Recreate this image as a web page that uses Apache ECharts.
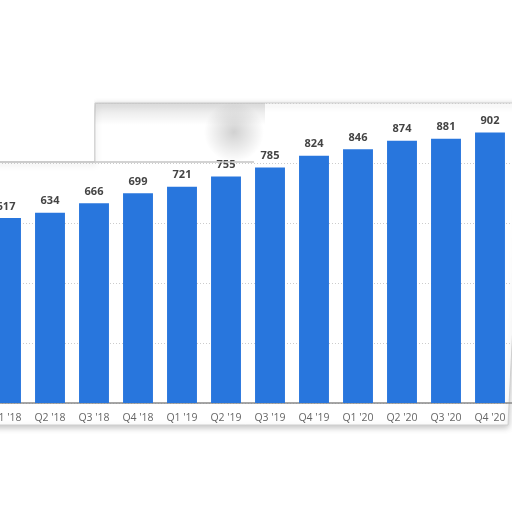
<!DOCTYPE html>
<html>
<head>
<meta charset="utf-8">
<script src="https://cdn.jsdelivr.net/npm/echarts@6/dist/echarts.min.js"></script>
<style>
  html, body { margin: 0; padding: 0; background: #fff; overflow: hidden; }
  #wrap { position: absolute; left: 0; top: 0; width: 512px; height: 512px; overflow: hidden; }
  #main { position: absolute; left: -16px; top: 0; width: 528px; height: 512px; }
</style>
</head>
<body>
<div id="wrap"><div id="main"></div></div>
<script>
// quarterly values
var quarters = ["Q1 '18", "Q2 '18", "Q3 '18", "Q4 '18", "Q1 '19", "Q2 '19",
                "Q3 '19", "Q4 '19", "Q1 '20", "Q2 '20", "Q3 '20", "Q4 '20"];
var values = [617, 634, 666, 699, 721, 755, 785, 824, 846, 874, 881, 902];

var chart = echarts.init(document.getElementById('main'));

// decoration only: the curled paper edge above the plot (x is +16 for the container shift)
var paper = [
  {
    type: 'polygon', z: -10,
    shape: { points: [[-20, 162], [111, 162], [111, 103], [540, 103], [524, 425], [-20, 425]] },
    style: { fill: '#fff', stroke: '#cfcfcf', lineWidth: 1, shadowBlur: 6, shadowColor: 'rgba(0,0,0,0.25)', shadowOffsetY: 2 }
  },
  {
    type: 'rect', z: -9,
    shape: { x: 111, y: 103, width: 170, height: 22 },
    style: {
      fill: new echarts.graphic.LinearGradient(0, 0, 0, 1, [
        { offset: 0, color: 'rgba(0,0,0,0.12)' },
        { offset: 1, color: 'rgba(0,0,0,0)' }
      ])
    }
  },
  {
    type: 'ellipse', z: -9,
    shape: { cx: 250, cy: 132, rx: 30, ry: 32 },
    style: {
      fill: new echarts.graphic.RadialGradient(0.5, 0.5, 0.5, [
        { offset: 0, color: 'rgba(0,0,0,0.18)' },
        { offset: 1, color: 'rgba(0,0,0,0)' }
      ])
    }
  },
  {
    type: 'rect', z: 50,
    shape: { x: -20, y: 80, width: 130, height: 81 },
    style: { fill: '#fff' }
  },
  {
    type: 'line', z: 51,
    shape: { x1: 0, y1: 162, x2: 270, y2: 162 },
    style: { stroke: '#c4c4c4', lineWidth: 1.5 }
  }
];

var option = {
  backgroundColor: '#fff',
  animation: false,
  graphic: paper,
  grid: { left: 0, right: 0, top: 103, bottom: 109, containLabel: false },
  xAxis: {
    type: 'category',
    data: quarters,
    axisTick: { show: false },
    axisLine: { lineStyle: { color: '#888', width: 1.5 } },
    axisLabel: { color: '#666', fontSize: 10.5, fontFamily: 'Open Sans', margin: 10 }
  },
  yAxis: {
    type: 'value',
    min: 0,
    max: 1000,
    interval: 200,
    axisLabel: { show: false },
    axisLine: { show: false },
    axisTick: { show: false },
    splitLine: { lineStyle: { color: '#ccc', type: [1, 2] } }
  },
  series: [{
    type: 'bar',
    data: values,
    barCategoryGap: '32%',
    itemStyle: { color: '#2876dd' },
    label: {
      show: true,
      position: 'top',
      distance: 6,
      color: '#444',
      fontSize: 11,
      fontWeight: 'bold',
      fontFamily: 'Open Sans'
    }
  }]
};

chart.setOption(option);
</script>
</body>
</html>
